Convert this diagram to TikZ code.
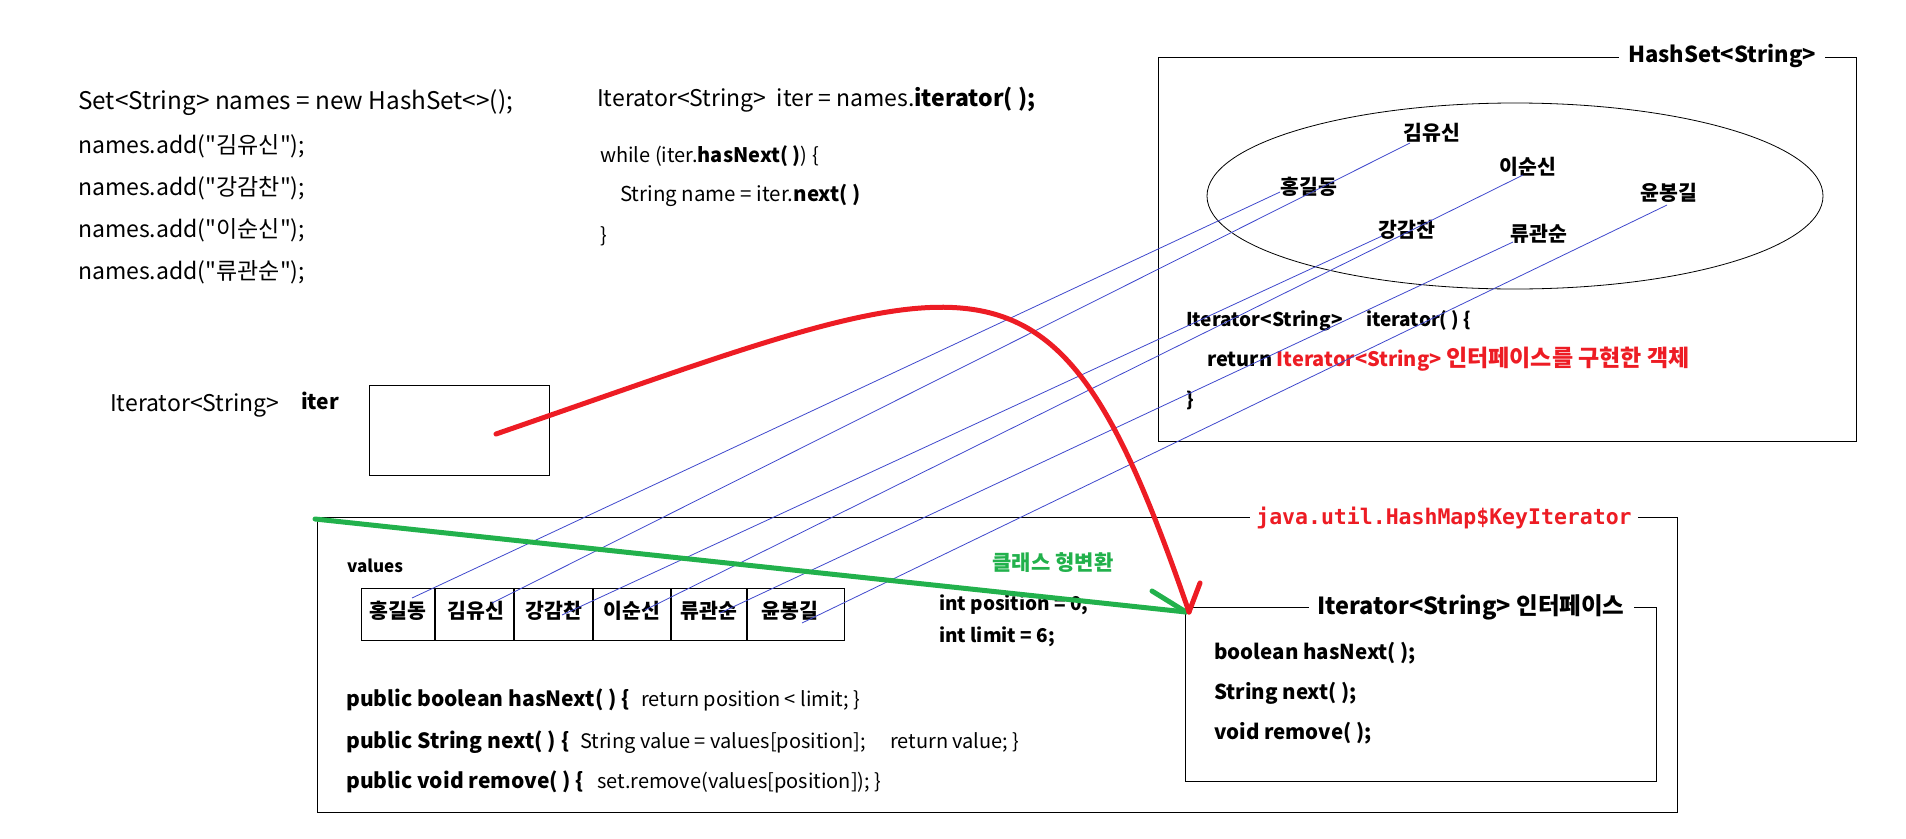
\documentclass[tikz,border=0pt]{standalone}
\usepackage{fontspec}
\setmainfont{Noto Sans CJK KR}[Ligatures=TeXOff]
\newfontfamily\monof{DejaVu Sans Mono}
\usetikzlibrary{shapes.geometric}
\definecolor{pblue}{RGB}{63,72,204}
\definecolor{pred}{RGB}{237,28,36}
\definecolor{pgreen}{RGB}{34,177,76}
\tikzset{
  box/.style={draw=black, line width=1.3pt, inner sep=0pt, anchor=north west},
  tl/.style={anchor=west, inner sep=0pt, text height=0.9em, text depth=0.1em},
  code/.style={tl, font=\fontsize{23}{26}\selectfont},
  codes/.style={tl, font=\fontsize{20}{23}\selectfont},
  bcode/.style={tl, font=\fontsize{19}{22}\selectfont\bfseries},
  meth/.style={tl, font=\fontsize{21}{24}\selectfont\bfseries},
  rcode/.style={tl, font=\fontsize{20}{23}\selectfont},
  nm/.style={inner sep=0pt, text height=0.9em, text depth=0.1em, font=\fontsize{20.5}{23}\selectfont\bfseries},
  ttl/.style={fill=white, inner xsep=9pt, inner ysep=2pt, font=\fontsize{22}{26}\selectfont\bfseries},
  link/.style={draw=pblue, line width=0.8pt},
  redline/.style={draw=pred, line width=5pt, line cap=round},
  greenline/.style={draw=pgreen, line width=5pt, line cap=round},
}
\begin{document}
\begin{tikzpicture}[x=1pt,y=-1pt]
\useasboundingbox (0,0) rectangle (1906,838);
% ---------- top-left code
\node[code, font=\fontsize{24.3}{27}\selectfont] (l1) at (78,105) {Set<String> names = new HashSet<>();};
\node[code] (l2) at (78,149) {names.add("김유신");};
\node[code] (l3) at (78,191) {names.add("강감찬");};
\node[code] (l4) at (78,233) {names.add("이순신");};
\node[code] (l5) at (78,275) {names.add("류관순");};
% ---------- top-middle code
\node[code] (m1) at (597,102) {Iterator<String>\ \ iter = names.\textbf{iterator( );}};
\node[codes] (m2) at (600,158) {while (iter.\textbf{hasNext( )}) \{};
\node[codes, font=\fontsize{20.5}{23}\selectfont] (m3) at (620,197) {String name = iter.\textbf{next( )}};
\node[codes] (m4) at (600,238) {\}};
% ---------- iter variable
\node[code] (it1) at (110,407) {Iterator<String>};
\node[code, font=\fontsize{21}{24}\selectfont\bfseries] (it2) at (301,405) {iter};
\node[box, minimum width=180pt, minimum height=90pt] (iterbox) at (369,385) {};
% ---------- HashSet box
\node[box, minimum width=698pt, minimum height=384pt] (hsbox) at (1158,57) {};
\node[ttl] (hstitle) at (1722,56) {HashSet<String>};
\node[draw, line width=0.8pt, ellipse, minimum width=616pt, minimum height=186pt, inner sep=0pt] (set) at (1515,196) {};
\node[nm] (s2) at (1432,136) {김유신};
\node[nm] (s4) at (1528,170) {이순신};
\node[nm] (s1) at (1309,190) {홍길동};
\node[nm] (s6) at (1669,196) {윤봉길};
\node[nm] (s3) at (1407,233) {강감찬};
\node[nm] (s5) at (1539,237) {류관순};
\node[bcode] (h1) at (1186,322) {Iterator<String>};
\node[bcode] (h1b) at (1366,322) {iterator( ) \{};
\node[bcode, font=\fontsize{20}{23}\selectfont\bfseries] (h2) at (1207,362) {return \textcolor{pred}{Iterator<String>\ {\fontsize{23}{26}\selectfont 인터페이스를 구현한 객체}}};
\node[bcode] (h3) at (1186,402) {\}};
% ---------- KeyIterator box
\node[box, minimum width=1360pt, minimum height=295pt] (kibox) at (317,517) {};
\node[ttl, inner xsep=6pt, font=\fontsize{21.5}{26}\selectfont\monof\bfseries, text=pred] (kititle) at (1444,518) {java.util.HashMap\$KeyIterator};
\node[bcode, font=\fontsize{17}{20}\selectfont\bfseries] (vals) at (347,568) {values};
\node[box, minimum width=483pt, minimum height=52pt] (tbl) at (361,588) {};
\foreach \x in {435,514,593,671,747} \draw[line width=1.3pt] (\x,588) -- (\x,640);
\node[nm] (c1) at (398,614) {홍길동};
\node[nm] (c2) at (476,614) {김유신};
\node[nm] (c3) at (554,614) {강감찬};
\node[nm] (c4) at (632,614) {이순신};
\node[nm] (c5) at (709,614) {류관순};
\node[nm] (c6) at (790,614) {윤봉길};
\node[bcode] (p1) at (939,606) {int position = 0;};
\node[bcode] (p2) at (939,638) {int limit = 6;};
\node[nm, text=pgreen, font=\fontsize{21}{24}\selectfont\bfseries] (cast) at (1053,566) {클래스 형변환};
\node[meth] (k1) at (346,702) {public boolean hasNext( ) \{};
\node[rcode] (k1b) at (641,702) {return position < limit; \}};
\node[meth] (k2) at (346,744) {public String next( ) \{};
\node[rcode] (k2b) at (580,744) {String value = values[position];};
\node[rcode] (k2c) at (890,744) {return value; \}};
\node[meth] (k3) at (346,784) {public void remove( ) \{};
\node[rcode] (k3b) at (597,784) {set.remove(values[position]); \}};
% ---------- interface box
\node[box, fill=white, minimum width=471pt, minimum height=174pt] (ifbox) at (1185,607) {};
\node[ttl, font=\fontsize{23.5}{27}\selectfont\bfseries] (iftitle) at (1471,607) {Iterator<String> 인터페이스};
\node[bcode, font=\fontsize{20.5}{23}\selectfont\bfseries] (f1) at (1214,655) {boolean hasNext( );};
\node[bcode, font=\fontsize{20.5}{23}\selectfont\bfseries] (f2) at (1214,695) {String next( );};
\node[bcode, font=\fontsize{20.5}{23}\selectfont\bfseries] (f3) at (1214,735) {void remove( );};
% ---------- blue links
\coordinate (v1) at (412,598); \coordinate (e1) at (1280,192);
\coordinate (v2) at (492,603); \coordinate (e2) at (1410,143);
\coordinate (v3) at (562,615); \coordinate (e3) at (1382,236);
\coordinate (v4) at (645,610); \coordinate (e4) at (1523,175);
\coordinate (v5) at (720,613); \coordinate (e5) at (1513,242);
\coordinate (v6) at (802,623); \coordinate (e6) at (1667,205);
\foreach \i in {1,...,6} \draw[link] (v\i) -- (e\i);
% ---------- green cast arrow
\coordinate (gs) at (315,519); \coordinate (gt) at (1186,612); \coordinate (gb) at (1152,591);
\draw[greenline] (gs) -- (gt);
\draw[greenline] (gb) -- (gt);
% ---------- red reference arrow
\coordinate (rs) at (496,434); \coordinate (rt) at (1189,612); \coordinate (rb) at (1200,583);
\draw[redline] (rs) .. controls (990,264) and (1052,214) .. (rt);
\draw[redline] (rb) -- (rt);
\end{tikzpicture}
\end{document}
